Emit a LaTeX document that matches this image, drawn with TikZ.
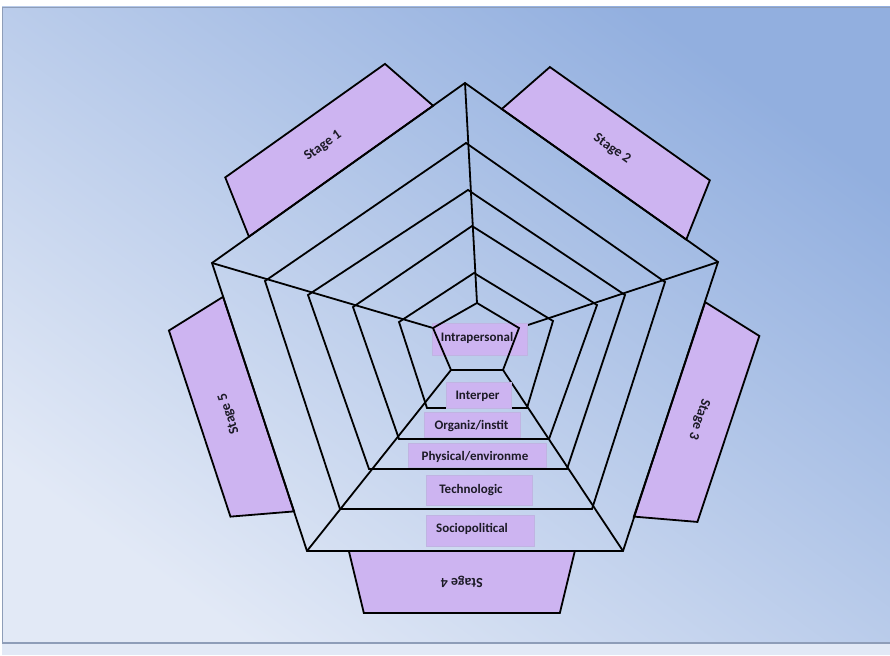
\documentclass[tikz,border=0pt]{standalone}
\usepackage{fontspec}
\setmainfont{Carlito}
\usetikzlibrary{calc}
\definecolor{bgdark}{HTML}{92AFDF}
\definecolor{bglight}{HTML}{E2E9F6}
\definecolor{lilac}{HTML}{CDB4F1}
\definecolor{lilacedge}{HTML}{C0B4E2}
\definecolor{framegray}{HTML}{8E9DB8}
\definecolor{inkdark}{HTML}{1C1A26}
\begin{document}
\begin{tikzpicture}[x=1pt,y=1pt,
  web/.style={line width=1.8pt, line join=miter, black},
  stagebox/.style={fill=lilac, draw=black, line width=1.8pt, line join=miter},
  stagetext/.style={font=\bfseries\fontsize{14}{16}\selectfont, text=inkdark, inner sep=0pt},
  ringbox/.style={fill=lilac, draw=lilacedge, line width=0.8pt},
  ringtext/.style={font=\bfseries\fontsize{13}{15}\selectfont, text=inkdark, inner sep=0pt}]
\useasboundingbox (0,0) rectangle (890,655);
% slide background
\fill[white] (0,0) rectangle (890,655);
\fill[bglight] (2,0) rectangle (890,12);
\shade[top color=bgdark, bottom color=bglight, shading angle=-36] (2,12) rectangle (890,648);
\draw[framegray, line width=0.8pt] (2,12) -- (2,648) -- (890,648);
\draw[framegray, line width=1.2pt] (2,12) -- (890,12);

% nested pentagon vertices: t = top, r = right, br/bl = bottom, l = left
\coordinate (p1t) at (465,572); \coordinate (p1r) at (718,393); \coordinate (p1br) at (623,104); \coordinate (p1bl) at (307,104); \coordinate (p1l) at (212,392);
\coordinate (p2t) at (466,512); \coordinate (p2r) at (665,373); \coordinate (p2br) at (592,146); \coordinate (p2bl) at (340,146); \coordinate (p2l) at (265,374);
\coordinate (p3t) at (468,465); \coordinate (p3r) at (625,360); \coordinate (p3br) at (567,186); \coordinate (p3bl) at (369,186); \coordinate (p3l) at (308,360);
\coordinate (p4t) at (472,429); \coordinate (p4r) at (597,350); \coordinate (p4br) at (549,216); \coordinate (p4bl) at (399,216); \coordinate (p4l) at (353,348);
\coordinate (p5t) at (474,382); \coordinate (p5r) at (553,334); \coordinate (p5br) at (527,247); \coordinate (p5bl) at (427,247); \coordinate (p5l) at (399,333);
\coordinate (p6t) at (477,352); \coordinate (p6r) at (519,327); \coordinate (p6br) at (503,285); \coordinate (p6bl) at (451,285); \coordinate (p6l) at (433,327);

% stage tabs on the outer edges
\foreach \a/\b/\ang/\lab/\nm in {p1l/p1t/35.4/Stage 1/stA, p1t/p1r/-35.3/Stage 2/stB, p1r/p1br/-108.4/Stage 3/stC, p1br/p1bl/180/Stage 4/stD, p1bl/p1l/108.3/Stage 5/stE} {
  \begin{scope}[shift={($(\a)!0.51!(\b)$)}, rotate=\ang]
    \draw[stagebox] (-113,0) -- (113,0) -- (98,62) -- (-98,62) -- cycle;
    \node[stagetext, rotate=\ang] (\nm) at (0,31) {\lab};
  \end{scope}
}

% spokes joining matching corners
\foreach \v in {t,r,br,bl,l} {
  \draw[web] (p1\v) -- (p6\v);
}
% rings
\foreach \k in {1,...,5} {
  \draw[web] (p\k t) -- (p\k r) -- (p\k br) -- (p\k bl) -- (p\k l) -- cycle;
}

% level boxes
\node[ringbox, minimum width=95pt, minimum height=32pt] (bxA) at (479.5,316) {};
\node[ringbox, minimum width=65pt, minimum height=26pt] (bxB) at (478.5,260) {};
\node[ringbox, minimum width=96pt, minimum height=25pt] (bxC) at (472,230.5) {};
\node[ringbox, minimum width=138pt, minimum height=24pt] (bxD) at (477,200) {};
\node[ringbox, minimum width=106pt, minimum height=30pt] (bxE) at (479,165) {};
\node[ringbox, minimum width=108pt, minimum height=31pt] (bxF) at (480,124.5) {};

% innermost ring
\draw[web] (p6t) -- (p6r) -- (p6br) -- (p6bl) -- (p6l) -- cycle;

% level names
\node[ringtext] (txA) at (477,317) {Intrapersonal};
\node[ringtext] (txB) at (477.5,259) {Interper};
\node[ringtext] (txC) at (471.5,229) {Organiz/instit};
\node[ringtext] (txD) at (475,198) {Physical/environme};
\node[ringtext] (txE) at (471,165) {Technologic};
\node[ringtext] (txF) at (472,126) {Sociopolitical};
\end{tikzpicture}
\end{document}
